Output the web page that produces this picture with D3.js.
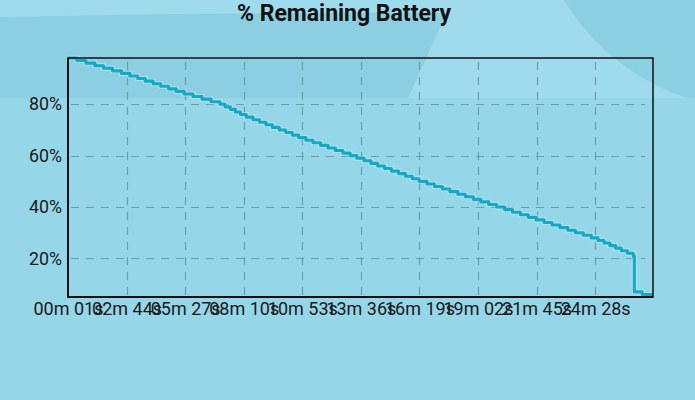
<!DOCTYPE html>
<html>
<head>
<meta charset="utf-8">
<script src="https://cdn.jsdelivr.net/npm/d3@7"></script>
<style>
  html, body { margin: 0; padding: 0; }
  body { width: 695px; height: 400px; overflow: hidden; }
  svg { display: block; }
</style>
</head>
<body>
<svg id="chart" width="695" height="400"></svg>
<script>
// Elapsed seconds at which each battery level begins (step-after)
const times = [1, 26, 51, 76, 100, 125, 150, 173, 195, 216, 238, 259, 281, 302, 324, 349, 374, 399, 424, 438,
  453, 467, 481, 497, 516, 534, 552, 570, 589, 607, 625, 643, 663, 683, 704, 725, 745, 766, 786, 805,
  825, 844, 863, 882, 901, 921, 940, 959, 978, 1000, 1021, 1043, 1064, 1086, 1107, 1129, 1150, 1172, 1194, 1216,
  1238, 1260, 1282, 1304, 1326, 1348, 1370, 1392, 1413, 1435, 1457, 1476, 1493, 1509, 1525, 1541, 1558, 1574, 1577, 1599, 1629];
const levels = [98, 97, 96, 95, 94, 93, 92, 91, 90, 89, 88, 87, 86, 85, 84, 83, 82, 81, 80, 79,
  78, 77, 76, 75, 74, 73, 72, 71, 70, 69, 68, 67, 66, 65, 64, 63, 62, 61, 60, 59,
  58, 57, 56, 55, 54, 53, 52, 51, 50, 49, 48, 47, 46, 45, 44, 43, 42, 41, 40, 39,
  38, 37, 36, 35, 34, 33, 32, 31, 30, 29, 28, 27, 26, 25, 24, 23, 22, 21, 7, 6, 6];
const xTickValues = [1, 164, 327, 490, 653, 816, 979, 1142, 1305, 1468];
const xTickLabels = ["00m 01s", "02m 44s", "05m 27s", "08m 10s", "10m 53s", "13m 36s", "16m 19s", "19m 02s", "21m 45s", "24m 28s"];
const yTickValues = [20, 40, 60, 80];
const yTickLabels = ["20%", "40%", "60%", "80%"];
const title = "% Remaining Battery";

const W = 695, H = 400;
const plot = { left: 68, right: 653, top: 58, bottom: 297 };
const svg = d3.select("#chart");

// Background
const bg = svg.append("g");
bg.append("rect").attr("width", W).attr("height", H).attr("fill", "#95d6e8");
bg.append("rect").attr("width", W).attr("height", 98).attr("fill", "#9fdbec");
bg.append("path")
  .attr("d", "M0,17 Q220,12 446,13 Q428,55 408,98 L0,98 Z")
  .attr("fill", "#8ccfe2");
bg.append("circle").attr("cx", 760).attr("cy", -120).attr("r", 230).attr("fill", "#8bcfe2");
bg.append("rect").attr("y", 98).attr("width", W).attr("height", H - 98).attr("fill", "#95d6e8");

const x = d3.scaleLinear().domain([d3.min(times), d3.max(times)]).range([plot.left, plot.right]);
const y = d3.scaleLinear().domain([5, 98]).range([plot.bottom, plot.top]);

// Grid
const grid = svg.append("g").attr("stroke", "#6e9dab").attr("stroke-width", 1.2).attr("stroke-dasharray", "8,7");
grid.selectAll("line.h").data(yTickValues).join("line")
  .attr("x1", plot.left + 3).attr("x2", plot.right - 8)
  .attr("y1", d => Math.round(y(d)) + 0.5).attr("y2", d => Math.round(y(d)) + 0.5);
grid.selectAll("line.v").data(xTickValues.slice(1)).join("line")
  .attr("y1", plot.top + 4).attr("y2", plot.bottom)
  .attr("x1", d => Math.round(x(d)) + 0.5).attr("x2", d => Math.round(x(d)) + 0.5);

// Line
const pts = times.map((t, i) => [t, levels[i]]);
const line = d3.line().x(d => x(d[0])).y(d => y(d[1])).curve(d3.curveStepAfter);
svg.append("path").datum(pts)
  .attr("d", line).attr("fill", "none")
  .attr("stroke", "#c8f2f9").attr("stroke-width", 5).attr("stroke-opacity", 0.45);
svg.append("path").datum(pts)
  .attr("d", line).attr("fill", "none")
  .attr("stroke", "#16a9c3").attr("stroke-width", 3.1).attr("stroke-linejoin", "round");

// Frame
svg.append("rect")
  .attr("x", plot.left).attr("y", plot.top)
  .attr("width", plot.right - plot.left).attr("height", plot.bottom - plot.top)
  .attr("fill", "none").attr("stroke", "#111").attr("stroke-width", 1.5);
svg.append("line").attr("x1", plot.left).attr("x2", plot.left).attr("y1", plot.top).attr("y2", plot.bottom + 1)
  .attr("stroke", "#111").attr("stroke-width", 2);
svg.append("line").attr("x1", plot.left).attr("x2", plot.right).attr("y1", plot.bottom).attr("y2", plot.bottom)
  .attr("stroke", "#111").attr("stroke-width", 2);

// Axes
const xAxis = d3.axisBottom(x).tickValues(xTickValues).tickFormat((d, i) => xTickLabels[i]).tickSize(0).tickPadding(5);
const gx = svg.append("g").attr("transform", `translate(0,${plot.bottom})`).call(xAxis);
gx.select(".domain").remove();
gx.selectAll("text").attr("font-family", "Roboto, sans-serif").attr("font-size", 18).attr("fill", "#1a1a1a");

const yAxis = d3.axisLeft(y).tickValues(yTickValues).tickFormat((d, i) => yTickLabels[i]).tickSize(0).tickPadding(6);
const gy = svg.append("g").attr("transform", `translate(${plot.left},0)`).call(yAxis);
gy.select(".domain").remove();
gy.selectAll("text").attr("font-family", "Roboto, sans-serif").attr("font-size", 17.8).attr("fill", "#1a1a1a");

// Title
svg.append("text")
  .attr("x", 344).attr("y", 21)
  .attr("text-anchor", "middle")
  .attr("font-family", "Roboto, sans-serif").attr("font-weight", "bold")
  .attr("font-size", 23).attr("fill", "#111")
  .text(title);
</script>
</body>
</html>
